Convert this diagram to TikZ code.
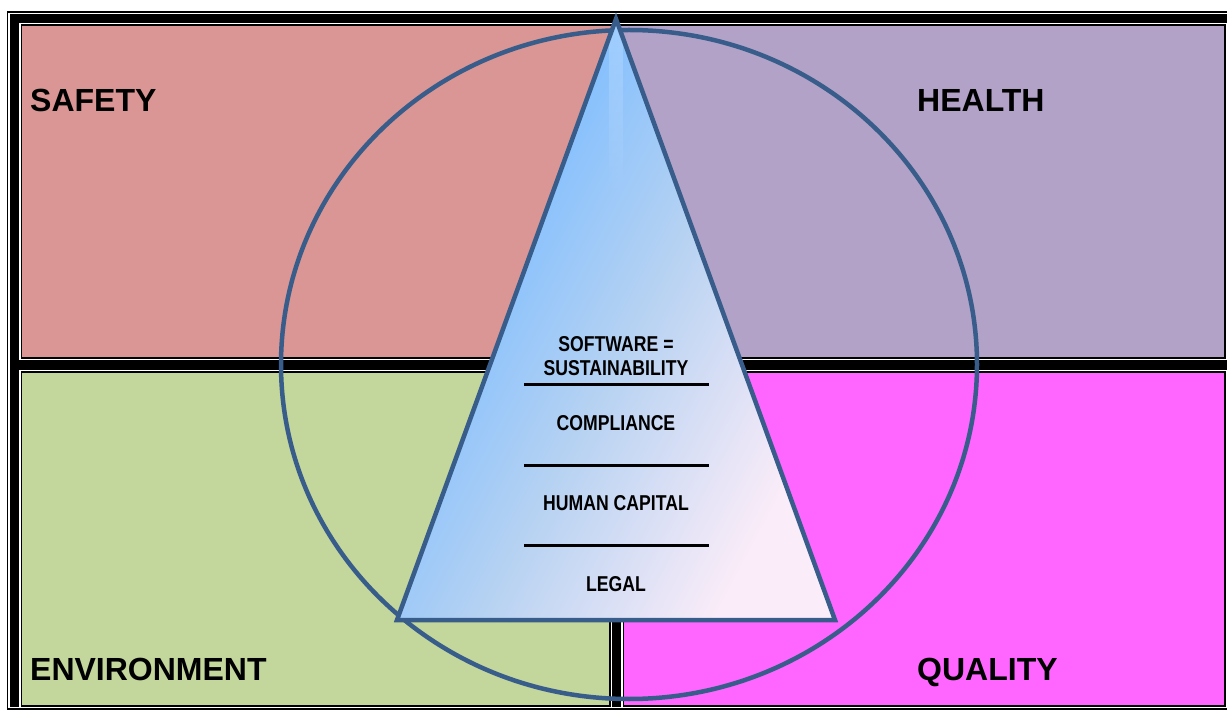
\documentclass[tikz,border=0pt]{standalone}
\usepackage{fontspec}
\setmainfont{Liberation Sans}
\newfontfamily\narrowfont[FakeStretch=0.82]{Liberation Sans}
\usetikzlibrary{fadings}
\definecolor{safetyc}{HTML}{D99694}
\definecolor{healthc}{HTML}{B2A2C7}
\definecolor{envc}{HTML}{C3D69B}
\definecolor{qualityc}{HTML}{FF66FF}
\definecolor{ringblue}{HTML}{385D8A}
\definecolor{tritop}{RGB}{128,190,255}
\definecolor{trimid}{RGB}{182,210,242}
\definecolor{tribot}{RGB}{250,236,248}
% blue towards the top, lavender towards the bottom
\pgfdeclareverticalshading{pyramidfill}{100bp}{color(0bp)=(tribot); color(27bp)=(tribot); color(48bp)=(trimid); color(66bp)=(tritop); color(100bp)=(tritop)}
\begin{document}
\begin{tikzpicture}[x=1pt,y=-1pt,
  corner/.style={font=\fontsize{32}{36}\selectfont\bfseries, text=black, inner sep=0pt, anchor=base west},
  layer/.style={font=\narrowfont\fontsize{21.5}{25}\selectfont\bfseries, text=black, inner sep=0pt, anchor=base},
  rule/.style={line width=3pt, black},
  outline/.style={draw=ringblue, line width=4.5pt},
  cellrim/.style={draw=white, line width=1.6pt}]
\useasboundingbox (0,0) rectangle (1227,711);
\begin{scope}
  \clip (0,0) rectangle (1227,711);
  % table frame
  \fill[black] (7,11) rectangle (1240,709.8);
  \draw[white, line width=1.3pt] (9,13.4) rectangle (1238,707.7);
  % white rims round the four cells
  \foreach \a/\b/\c/\d in {22/25.7/616/357.3, 616/25.7/1224.3/357.3, 22/373/609.3/705.3, 624/373/1224.3/705.3}
    \draw[cellrim] ({\a-2.3},{\b-2.3}) rectangle ({\c+2.3},{\d+2.3});
  % cells
  \fill[safetyc] (22,25.7) rectangle (616,357.3);
  \fill[healthc] (616,25.7) rectangle (1224.3,357.3);
  \fill[envc] (22,373) rectangle (609.3,705.3);
  \fill[qualityc] (624,373) rectangle (1224.3,705.3);
\end{scope}

% corner labels
\node[corner] (safety) at (30,111.5) {SAFETY};
\node[corner] (health) at (917,111.5) {HEALTH};
\node[corner] (environment) at (30,680) {ENVIRONMENT};
\node[corner] (quality) at (917,680) {QUALITY};

% ring
\draw[outline] (629,364.5) ellipse [x radius=348, y radius=334.5];

% pyramid
\coordinate (apex) at (616,19);
\coordinate (bl) at (397,620);
\coordinate (br) at (835,620);
\shade[shading=pyramidfill, shading angle=62] (apex) -- (bl) -- (br) -- cycle;
\begin{scope}
  \clip (apex) -- (bl) -- (br) -- cycle;
  \fill[white, fill opacity=0.22, path fading=south] (609,19) rectangle (623,195);
\end{scope}
\draw[outline, line join=miter] (apex) -- (bl) -- (br) -- cycle;

% layers of the pyramid
\node[layer] (sw1) at (616,351.5) {SOFTWARE =};
\node[layer] (sw2) at (616,376) {SUSTAINABILITY};
\node[layer] (comp) at (616,431) {COMPLIANCE};
\node[layer] (hum) at (616,510.7) {HUMAN CAPITAL};
\node[layer] (legal) at (616,591.7) {LEGAL};

\coordinate (r1a) at (524,385); \coordinate (r1b) at (709,385);
\coordinate (r2a) at (524,465); \coordinate (r2b) at (709,465);
\coordinate (r3a) at (524,545); \coordinate (r3b) at (709,545);
\draw[rule] (r1a) -- (r1b);
\draw[rule] (r2a) -- (r2b);
\draw[rule] (r3a) -- (r3b);
\end{tikzpicture}
\end{document}
